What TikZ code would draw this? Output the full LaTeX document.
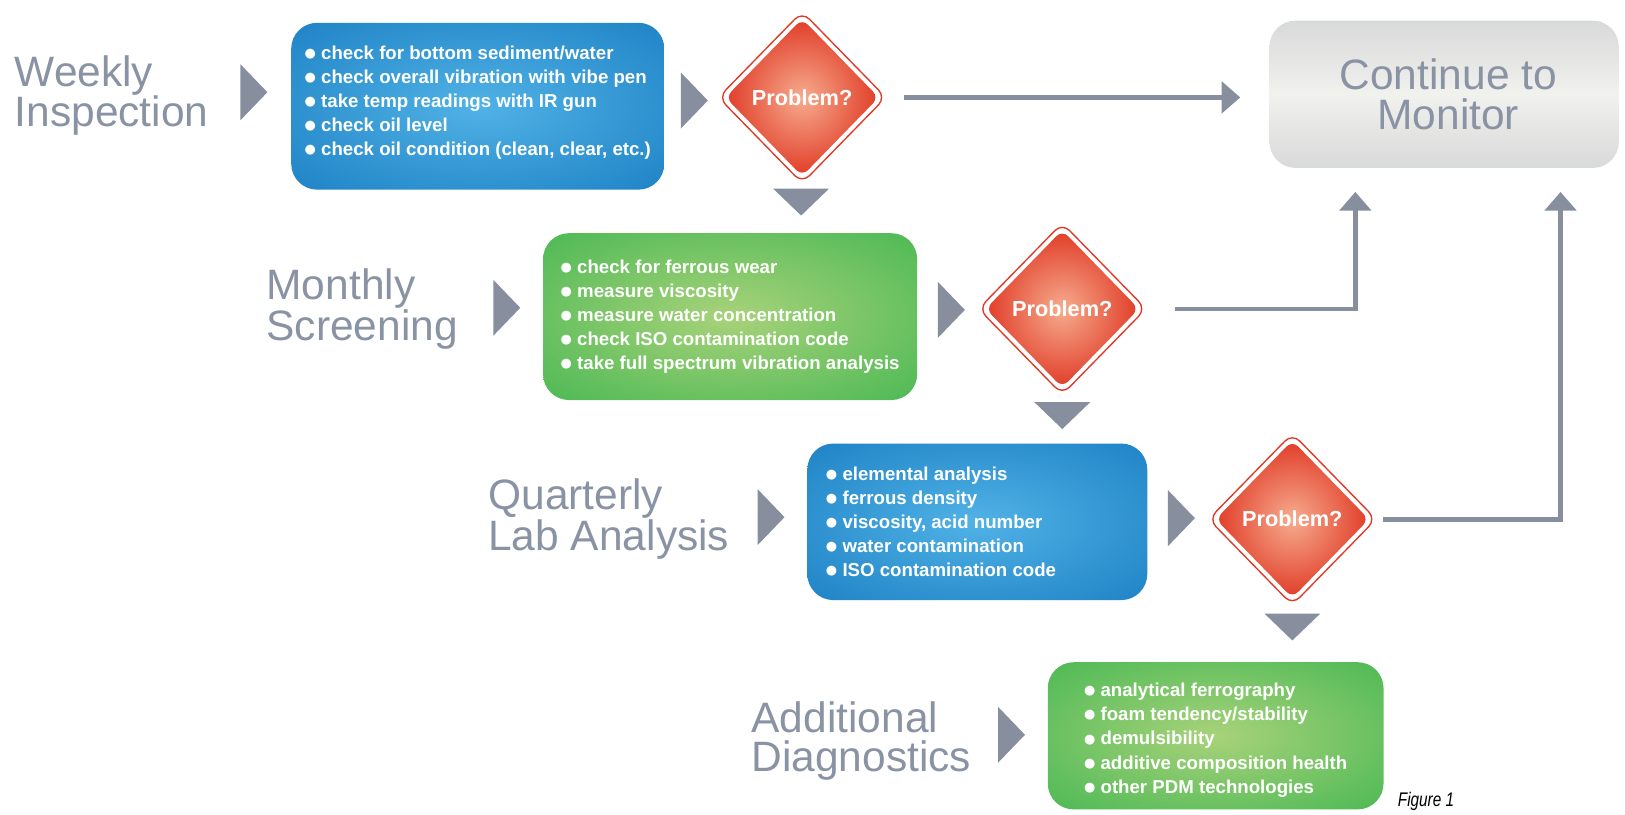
\documentclass[tikz,border=0pt]{standalone}
\usepackage{fontspec}
\setmainfont{Liberation Sans}
\newfontfamily\figfont[FakeStretch=0.78]{Liberation Sans}
\newfontfamily\dejavu{DejaVu Sans}
\usetikzlibrary{shapes.geometric,arrows.meta,calc}

\definecolor{slate}{RGB}{135,143,158}
\definecolor{slatetext}{RGB}{138,147,164}
\definecolor{blueE}{RGB}{14,114,187}
\definecolor{blueC}{RGB}{80,178,229}
\definecolor{greenE}{RGB}{50,178,74}
\definecolor{greenC}{RGB}{168,210,122}
\definecolor{redE}{RGB}{224,56,36}
\definecolor{redC}{RGB}{246,172,142}
\definecolor{grayE}{RGB}{216,217,217}
\definecolor{grayC}{RGB}{241,241,238}

\pgfdeclareradialshading{blueshade}{\pgfpoint{0bp}{0bp}}{color(0bp)=(blueC); color(48bp)=(blueE); color(100bp)=(blueE)}
\pgfdeclareradialshading{greenshade}{\pgfpoint{0bp}{0bp}}{color(0bp)=(greenC); color(46bp)=(greenE); color(100bp)=(greenE)}
\pgfdeclareradialshading{redshade}{\pgfpoint{0bp}{0bp}}{color(0bp)=(redC); color(26bp)=(redE); color(100bp)=(redE)}

\newcommand\bul{\makebox[16pt][l]{\smash{\raisebox{1.8pt}{\dejavu\fontsize{12.5}{0}\selectfont ●}}}}

\tikzset{
  x=1pt, y=-1pt,
  label/.style={anchor=west, align=left, text=slatetext, font=\fontsize{41}{37.5}\selectfont, inner sep=0pt},
  listbox/.style={rounded corners=25pt, align=left, text=white, inner xsep=10pt, inner ysep=0pt,
     font=\bfseries\fontsize{18}{23.3}\selectfont},
  bluebox/.style={listbox, shading=blueshade},
  greenbox/.style={listbox, shading=greenshade},
  graybox/.style={rounded corners=25pt, align=center, text=slatetext, top color=grayE, bottom color=grayE,
     middle color=grayC, font=\fontsize{41}{38}\selectfont},
  dmout/.style={diamond, minimum width=162pt, minimum height=166pt, inner sep=0pt, draw=redE,
     line width=1.3pt, fill=white, rounded corners=10pt},
  dmin/.style={diamond, minimum width=148pt, minimum height=152pt, inner sep=0pt, shading=redshade,
     rounded corners=8pt, text=white, font=\bfseries\fontsize{21}{24}\selectfont},
  conn/.style={draw=slate, line width=4.5pt, -{Triangle[length=18pt,width=30pt]}},
  rtri/.pic={\fill[slate] (0,0) -- (26,27) -- (0,54) -- cycle;},
  dtri/.pic={\fill[slate] (0,0) -- (54,0) -- (27,26) -- cycle;}
}

\begin{document}
\begin{tikzpicture}
\useasboundingbox[fill=white] (0,0) rectangle (1568,786);

% labels
\node[label] (l1) at (14,92) {Weekly\\Inspection};
\node[label] (l2) at (257,298) {Monthly\\Screening};
\node[label] (l3) at (471,501) {Quarterly\\Lab Analysis};
\node[label] (l4) at (725,715) {Additional\\Diagnostics};

% list boxes
\node[bluebox, minimum width=360pt, minimum height=161pt] (b1) at (461,102.5) {%
\bul check for bottom sediment/water\\
\bul check overall vibration with vibe pen\\
\bul take temp readings with IR gun\\
\bul check oil level\\
\bul check oil condition (clean, clear, etc.)\\[-12.5pt]\mbox{}};

\node[greenbox, minimum width=361pt, minimum height=161pt] (b2) at (704.5,305.5) {%
\bul check for ferrous wear\\
\bul measure viscosity\\
\bul measure water concentration\\
\bul check ISO contamination code\\
\bul take full spectrum vibration analysis};

\node[bluebox, minimum width=328pt, minimum height=151pt] (b3) at (943,503.5) {%
\bul elemental analysis\\
\bul ferrous density\\
\bul viscosity, acid number\\
\bul water contamination\\
\bul ISO contamination code\hspace*{70pt}};

\node[greenbox, minimum width=324pt, minimum height=142pt] (b4) at (1173,710) {%
\mbox{}\\[-2pt]
\bul analytical ferrography\\
\bul foam tendency/stability\\
\bul demulsibility\\
\bul additive composition health\\
\bul other PDM technologies\hspace*{26pt}};

\node[graybox, minimum width=337pt, minimum height=142pt] (cont) at (1393.5,91) {\hspace*{8pt}Continue to\\\hspace*{8pt}Monitor};

% decisions
\node[dmout] (d1o) at (774,94) {};
\node[dmin] (d1) at (d1o) {Problem?};
\node[dmout] (d2o) at (1025,298) {};
\node[dmin] (d2) at (d2o) {Problem?};
\node[dmout] (d3o) at (1247,501) {};
\node[dmin] (d3) at (d3o) {Problem?};

% chevrons
\pic at (232,62) {rtri};
\pic at (657,70) {rtri};
\pic at (476,270) {rtri};
\pic at (905,272) {rtri};
\pic at (731,472) {rtri};
\pic at (1127,473) {rtri};
\pic at (963,682) {rtri};
\pic at (746,182) {dtri};
\pic at (998,388) {dtri};
\pic at (1220,592) {dtri};

% connectors
\coordinate (up1) at ($(cont.south west)+(83,0)$);
\coordinate (up2) at ($(cont.south west)+(281,0)$);
\draw[conn, shorten <=17pt, shorten >=28pt] (d1o.east) -- (d1o.east -| cont.west);
\draw[conn, shorten <=27pt, shorten >=23pt] (d2o.east) -| (up1);
\draw[conn, shorten <=6pt, shorten >=23pt] (d3o.east) -| (up2);

% caption
\node[font=\figfont\itshape\fontsize{19}{20}\selectfont, inner sep=0pt] (fig) at (1376,773) {Figure 1};
\end{tikzpicture}
\end{document}
